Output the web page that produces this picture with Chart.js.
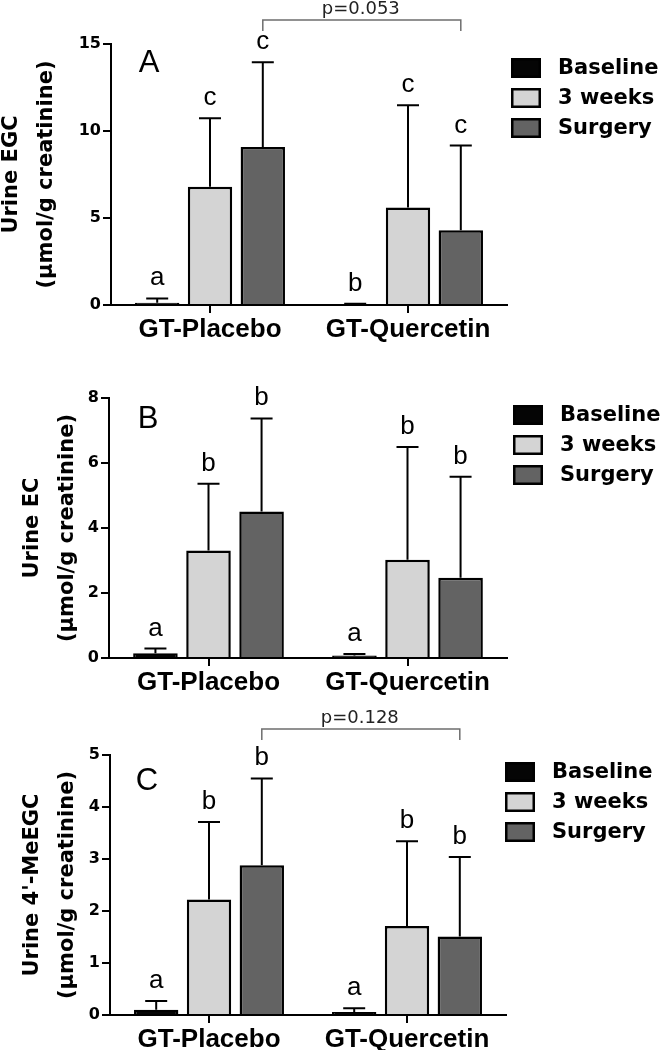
<!DOCTYPE html>
<html>
<head>
<meta charset="utf-8">
<script src="https://cdn.jsdelivr.net/npm/chart.js@4/dist/chart.umd.min.js"></script>
<style>
  body { margin: 0; background: #fff; }
  canvas { position: absolute; left: 0; }
</style>
</head>
<body>
<canvas id="chartA" width="665" height="345" style="top:0px"></canvas>
<canvas id="chartB" width="665" height="355" style="top:345px"></canvas>
<canvas id="chartC" width="665" height="350" style="top:700px"></canvas>
<script>
'use strict';

const groups = ['GT-Placebo', 'GT-Quercetin'];
const periods = ['Baseline', '3 weeks', 'Surgery'];

// panel A, urine EGC (mean and SD, placebo / quercetin)
const egcBaseline = [0.13, 0.05];
const egcWeeks = [6.8, 5.6];
const egcSurgery = [9.08, 4.29];
const egcBaselineSd = [0.25, 0.02];
const egcWeeksSd = [3.93, 5.88];
const egcSurgerySd = [4.87, 4.87];
const egcLetters = [['a', 'b'], ['c', 'c'], ['c', 'c']];
const egcTicks = [0, 5, 10, 15];

// panel B, urine EC
const ecBaseline = [0.15, 0.08];
const ecWeeks = [3.31, 3.02];
const ecSurgery = [4.51, 2.47];
const ecBaselineSd = [0.14, 0.04];
const ecWeeksSd = [2.05, 3.47];
const ecSurgerySd = [2.86, 3.11];
const ecLetters = [['a', 'a'], ['b', 'b'], ['b', 'b']];
const ecTicks = [0, 2, 4, 6, 8];

// panel C, urine 4'-MeEGC
const meBaseline = [0.1, 0.06];
const meWeeks = [2.22, 1.71];
const meSurgery = [2.88, 1.51];
const meBaselineSd = [0.17, 0.07];
const meWeeksSd = [1.49, 1.63];
const meSurgerySd = [1.67, 1.53];
const meLetters = [['a', 'a'], ['b', 'b'], ['b', 'b']];
const meTicks = [0, 1, 2, 3, 4, 5];

const fillColors = ['#050505', '#d4d4d4', '#636363'];
const boldFont = 'DejaVu Sans';
const arialFont = 'Liberation Sans, Arial, sans-serif';

// error bars, letters, panel label, p bracket and legend
const panelDecor = {
  id: 'panelDecor',
  afterDatasetsDraw(chart, args, opts) {
    const ctx = chart.ctx;
    const y = chart.scales.y;
    const area = chart.chartArea;
    ctx.save();

    chart.data.datasets.forEach((ds, i) => {
      chart.getDatasetMeta(i).data.forEach((bar, j) => {
        let capY = y.getPixelForValue(ds.data[j] + ds.sd[j]);
        ctx.strokeStyle = '#000';
        ctx.lineWidth = 2;
        ctx.beginPath();
        ctx.moveTo(bar.x, bar.y);
        ctx.lineTo(bar.x, capY);
        ctx.moveTo(bar.x - 11, capY);
        ctx.lineTo(bar.x + 11, capY);
        ctx.stroke();

        ctx.fillStyle = '#000';
        ctx.font = '26px ' + arialFont;
        ctx.textAlign = 'center';
        ctx.textBaseline = 'alphabetic';
        ctx.fillText(ds.letters[j], bar.x, capY - 13);
      });
    });

    ctx.font = '31px ' + arialFont;
    ctx.textAlign = 'center';
    ctx.fillText(opts.label, area.left + opts.labelX, area.top + opts.labelY);

    if (opts.pText) {
      let x1 = chart.getDatasetMeta(2).data[0].x;
      let x2 = chart.getDatasetMeta(2).data[1].x;
      let top = area.top - opts.pTop;
      ctx.strokeStyle = '#6e6e6e';
      ctx.lineWidth = 1.5;
      ctx.beginPath();
      ctx.moveTo(x1, top + 11);
      ctx.lineTo(x1, top);
      ctx.lineTo(x2, top);
      ctx.lineTo(x2, top + 11);
      ctx.stroke();
      ctx.fillStyle = '#222';
      ctx.font = '18px ' + boldFont;
      ctx.fillText(opts.pText, (x1 + x2) / 2 - 1, top - 6);
    }

    chart.data.datasets.forEach((ds, i) => {
      let bx = opts.legendX;
      let by = opts.legendY + i * 30;
      ctx.fillStyle = ds.backgroundColor;
      ctx.fillRect(bx, by - 10, 30, 20);
      ctx.strokeStyle = '#000';
      ctx.lineWidth = 2.5;
      ctx.strokeRect(bx + 1.25, by - 8.75, 27.5, 17.5);
      ctx.fillStyle = '#000';
      ctx.font = 'bold 21px ' + boldFont;
      ctx.textAlign = 'left';
      ctx.textBaseline = 'middle';
      ctx.fillText(ds.label, bx + 47, by + 1);
    });

    ctx.restore();
  }
};

function makePanel(canvasId, values, sds, letters, ticks, title, layout, decor) {
  let datasets = periods.map((p, i) => ({
    label: p,
    data: values[i],
    sd: sds[i],
    letters: letters[i],
    backgroundColor: fillColors[i],
    borderColor: '#000',
    borderWidth: 2.5
  }));

  let chartObject = {
    type: 'bar',
    data: { labels: groups, datasets: datasets },
    options: {
      responsive: false,
      animation: false,
      events: [],
      layout: { padding: { left: 0, right: layout.right, top: layout.top, bottom: 0 } },
      datasets: { bar: { categoryPercentage: 0.8, barPercentage: 0.84 } },
      plugins: {
        legend: { display: false },
        tooltip: { enabled: false },
        panelDecor: decor
      },
      scales: {
        x: {
          grid: { offset: false, drawOnChartArea: false, tickLength: 8, color: '#000', lineWidth: 2 },
          border: { color: '#000', width: 2 },
          ticks: { color: '#000', padding: 1, maxRotation: 0, font: { family: arialFont, size: 26, weight: 'bold' } },
          afterFit: s => { s.height = layout.xHeight; }
        },
        y: {
          min: ticks[0],
          max: ticks[ticks.length - 1],
          afterBuildTicks: s => { s.ticks = ticks.map(v => ({ value: v })); },
          grid: { drawOnChartArea: false, tickLength: 8, color: '#000', lineWidth: 2 },
          border: { color: '#000', width: 2 },
          ticks: { color: '#000', padding: 2, font: { family: boldFont, size: 16, weight: 'bold' } },
          title: {
            display: true,
            text: title,
            color: '#000',
            font: { family: boldFont, size: 21, weight: 'bold', lineHeight: 1.68 },
            padding: { top: layout.titlePad, bottom: 0 }
          },
          afterFit: s => { s.width = layout.left; }
        }
      }
    },
    plugins: [panelDecor]
  };

  let ctx = document.getElementById(canvasId).getContext('2d');
  return new Chart(ctx, chartObject);
}

makePanel('chartA',
  [egcBaseline, egcWeeks, egcSurgery],
  [egcBaselineSd, egcWeeksSd, egcSurgerySd],
  egcLetters, egcTicks,
  ['Urine EGC', '(µmol/g creatinine)'],
  { left: 111, right: 158, top: 44, xHeight: 40, titlePad: -6 },
  { label: 'A', labelX: 38, labelY: 28, pText: 'p=0.053', pTop: 24, legendX: 511, legendY: 68 });

makePanel('chartB',
  [ecBaseline, ecWeeks, ecSurgery],
  [ecBaselineSd, ecWeeksSd, ecSurgerySd],
  ecLetters, ecTicks,
  ['Urine EC', '(µmol/g creatinine)'],
  { left: 109, right: 158, top: 53, xHeight: 42, titlePad: 15 },
  { label: 'B', labelX: 39, labelY: 30, pText: null, legendX: 513, legendY: 70 });

makePanel('chartC',
  [meBaseline, meWeeks, meSurgery],
  [meBaselineSd, meWeeksSd, meSurgerySd],
  meLetters, meTicks,
  ['Urine 4\'-MeEGC', '(µmol/g creatinine)'],
  { left: 110, right: 159, top: 55, xHeight: 35, titlePad: 15 },
  { label: 'C', labelX: 37, labelY: 35, pText: 'p=0.128', pTop: 26, legendX: 505, legendY: 72 });
</script>
</body>
</html>
